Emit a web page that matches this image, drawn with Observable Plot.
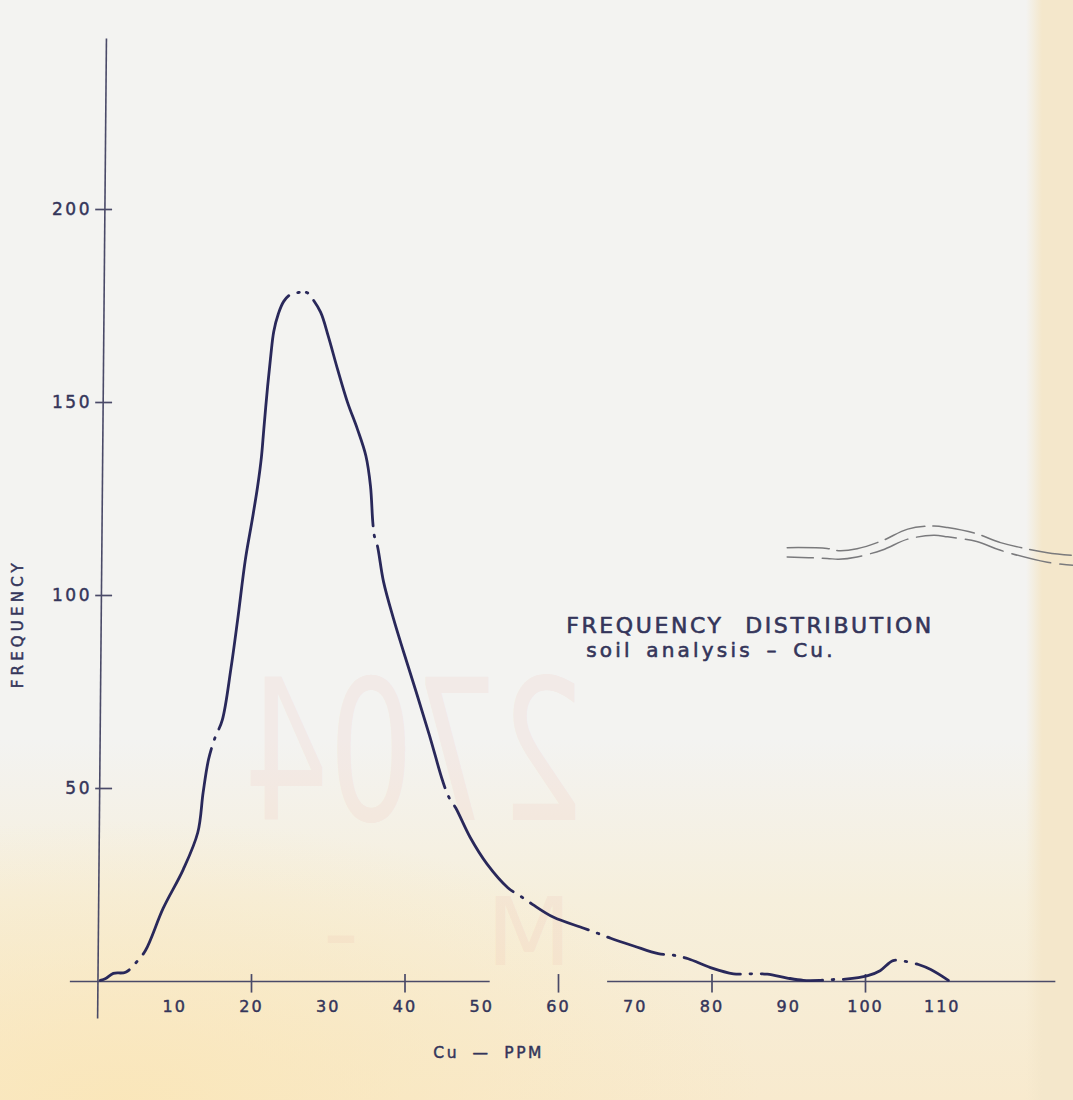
<!DOCTYPE html>
<html>
<head>
<meta charset="utf-8">
<script src="https://cdn.jsdelivr.net/npm/d3@7"></script>
<script src="https://cdn.jsdelivr.net/npm/@observablehq/plot@0.6"></script>
<style>
  html, body { margin: 0; padding: 0; }
  body {
    width: 1073px; height: 1100px; overflow: hidden; position: relative;
    background:
      linear-gradient(to right, rgba(244,231,203,0) 0px, rgba(244,231,203,0) 1026px, rgba(244,231,203,1) 1042px),
      radial-gradient(ellipse 640px 280px at 120px 1100px, rgba(250,230,184,0.9), rgba(250,230,184,0) 100%),
      linear-gradient(to bottom, #f3f3f1 0px, #f3f3f1 740px, #f6efdc 900px, #f8eace 1100px);
    font-family: "DejaVu Sans", sans-serif;
  }
  #wm { position: absolute; left: 0; top: 0; width: 1073px; height: 1100px; pointer-events: none; }
  #wm span { position: absolute; font-family: "DejaVu Sans", sans-serif; font-weight: normal;
             color: rgba(236, 172, 166, 0.15); white-space: pre; transform-origin: 0 0; line-height: 1; }
  #chart { position: absolute; left: 0; top: 0; }
  g[font-size="17"] text { letter-spacing: 2.5px; }
  g[font-size="16"] text { letter-spacing: 2px; }
  g[font-size="22"] text { letter-spacing: 2.6px; word-spacing: 12px; }
  g[font-size="20"] text { letter-spacing: 3.2px; word-spacing: 4px; }
  g[font-size="15"] text { letter-spacing: 4.2px; }
  g[font-size="15.5"] text { letter-spacing: 2.6px; word-spacing: 6px; }
</style>
</head>
<body>
<div id="wm">
  <span style="left:585px; top:654px; font-size:170px; transform: scale(-0.79, 1.15);">2704</span>
  <span style="left:572px; top:885px; font-size:95px; transform: scale(-1.05, 1.0);">M    -</span>
</div>
<div id="chart"></div>
<script>
// ---- data ----
const cuPpm = [
  0.3, 1.0, 2.0, 3.6, 5.0, 6.2, 8.5, 11.1, 13.0, 13.7,
  14.4, 15.2, 16.2, 17.3, 18.2, 19.2, 20.1, 20.8, 21.3, 21.6,
  22.1, 22.5, 22.9, 23.5, 24.2, 25.1, 26.1, 27.2, 27.7, 29.0,
  30.0, 31.2, 32.5, 33.8, 34.9, 35.5, 35.8, 36.0, 36.4, 37.2,
  38.5, 39.8, 41.6, 43.3, 44.9, 45.7, 46.6, 48.5, 50.7, 53.4,
  55.2, 56.6, 59.3, 63.3, 65.1, 66.8, 69.8, 73.0, 75.0, 76.9,
  79.8, 82.8, 85.0, 87.2, 89.8, 91.9, 94.1, 95.7, 97.4, 100.3,
  101.9, 103.6, 105.2, 106.9, 108.5, 110.8
];
const frequency = [
  0.3, 0.8, 2.1, 2.4, 5.0, 8.1, 19.0, 29.0, 38.6, 49.0,
  57.5, 62.9, 67.8, 80.8, 93.8, 109.3, 119.7, 128.3, 136.0, 143.0,
  154.2, 161.9, 168.4, 173.0, 176.2, 178.0, 178.5, 178.5, 177.5, 173.4,
  167.2, 158.7, 150.1, 143.1, 136.2, 128.4, 119.1, 115.5, 112.9, 103.6,
  94.0, 85.5, 74.1, 63.0, 52.0, 47.8, 45.0, 37.3, 30.4, 24.3,
  21.9, 20.0, 16.7, 13.8, 12.5, 11.2, 9.2, 7.2, 6.8, 5.9,
  3.6, 2.0, 2.0, 1.9, 0.9, 0.3, 0.3, 0.5, 0.6, 1.5,
  2.8, 5.4, 5.2, 4.4, 3.1, 0.3
];
// Cu values where the dash-dot pen leaves a dot
const penDotsAt = [5.0, 15.2, 26.1, 27.2, 36.0, 45.7, 55.2, 65.1, 75.0, 85.0, 95.7, 105.2];

const xTickLabels = [10, 20, 30, 40, 50, 60, 70, 80, 90, 100, 110];
const xTickMarks = [20, 40, 60, 80, 100];
const yTicks = [50, 100, 150, 200];

// the drawn axis lines (data units), x axis has a break between 51 and 66
const xAxisSegments = [{from: -3.6, to: 51.1}, {from: 66.4, to: 124.8}];
const yAxisExtent = {bottom: -9.6, top: 244.3};

// stray double pencil line at right
const strayX     = [89.8, 95.0, 96.5, 98.9, 102.2, 105.5, 108.9, 110.7, 114.5, 117.6, 123.7, 127.1];
const strayUpper = [112.4, 112.2, 111.6, 112.1, 114.2, 117.2, 118.0, 117.6, 116.0, 113.7, 111.1, 110.4];
const strayLower = [110.0, 109.6, 109.4, 110.0, 111.8, 114.6, 115.6, 115.2, 114.0, 111.7, 108.6, 107.8];

const titleText = "FREQUENCY DISTRIBUTION";
const subtitleText = "soil analysis – Cu.";
const yLabelText = "FREQUENCY";
const xLabelText = "Cu — PPM";
const titleAt = {x: 61.0, y: 92.0};
const subtitleAt = {x: 63.6, y: 85.6};
const yLabelAt = {x: -10.4, y: 92.7};
const xLabelAt = {x: 50.9, y: -18.6};
const xTickLabelRow = -6.5;

// ---- build ----
const ink = "#29285a";
const axisInk = "#4a4a68";
const textInk = "#34355a";

const curve = cuPpm.map((x, i) => ({x, y: frequency[i]}));
const strayUp = strayX.map((x, i) => ({x, y: strayUpper[i]}));
const strayLo = strayX.map((x, i) => ({x, y: strayLower[i]}));

const textStyle = {fill: textInk, stroke: textInk, strokeWidth: 0.45};

const svg = Plot.plot({
  width: 1073,
  height: 1100,
  margin: 0,
  style: {background: "transparent", fontFamily: "DejaVu Sans, sans-serif", color: textInk},
  x: {type: "linear", domain: [0, 120], range: [97.5, 1018.5], axis: null},
  y: {type: "linear", domain: [0, 200], range: [981, 209], axis: null},
  marks: [
    // axes
    Plot.link([yAxisExtent], {x1: -0.05, y1: d => d.bottom, x2: 1.1, y2: d => d.top, stroke: axisInk, strokeWidth: 1.6}),
    Plot.ruleY(xAxisSegments, {y: 0, x1: d => d.from, x2: d => d.to, stroke: axisInk, strokeWidth: 1.5}),
    Plot.ruleX(xTickMarks, {x: d => d, y1: -3.0, y2: 1.8, stroke: axisInk, strokeWidth: 1.7}),
    Plot.ruleY(yTicks, {y: d => d, x1: -0.3, x2: 1.9, stroke: axisInk, strokeWidth: 1.7}),
    Plot.text(yTicks, {x: 0, y: d => d, text: d => String(d), dx: -6, textAnchor: "end", fontSize: 17, ...textStyle}),
    Plot.text(xTickLabels, {x: d => d, y: xTickLabelRow, text: d => String(d), fontSize: 16, ...textStyle}),
    Plot.text([yLabelText], {x: yLabelAt.x, y: yLabelAt.y, text: d => d, rotate: -90, fontSize: 15, ...textStyle}),
    Plot.text([xLabelText], {x: xLabelAt.x, y: xLabelAt.y, text: d => d, fontSize: 15.5, ...textStyle}),
    // title block
    Plot.text([titleText], {x: titleAt.x, y: titleAt.y, text: d => d, textAnchor: "start", fontSize: 22, ...textStyle, strokeWidth: 0.6}),
    Plot.text([subtitleText], {x: subtitleAt.x, y: subtitleAt.y, text: d => d, textAnchor: "start", fontSize: 20, ...textStyle, strokeWidth: 0.6}),
    // stray pencil lines
    Plot.line(strayUp, {x: "x", y: "y", curve: "catmull-rom", stroke: "#7a7a7c", strokeWidth: 1.5, strokeDasharray: "42 8"}),
    Plot.line(strayLo, {x: "x", y: "y", curve: "catmull-rom", stroke: "#7a7a7d", strokeWidth: 1.5, strokeDasharray: "40 9", strokeDashoffset: 14}),
    // the frequency curve
    Plot.line(curve, {x: "x", y: "y", curve: "catmull-rom", stroke: ink, strokeWidth: 2.8, strokeLinecap: "round", strokeLinejoin: "round"})
  ]
});
document.getElementById("chart").append(svg);

// dash-dot pen: compute dash pattern from the dot positions along the drawn path
const xScale = svg.scale("x");
const path = svg.querySelector(`g[stroke="${ink}"] path`);
if (path) {
  const T = path.getTotalLength();
  const lengthAtX = (px) => {
    let lo = 0, hi = T;
    for (let i = 0; i < 40; i++) {
      const mid = (lo + hi) / 2;
      if (path.getPointAtLength(mid).x < px) lo = mid; else hi = mid;
    }
    return (lo + hi) / 2;
  };
  const g = 10.5;
  const dotL = penDotsAt.map(v => lengthAtX(xScale.apply(v)));
  const wins = dotL.map(L => [Math.max(0, L - g), Math.min(T, L + g)]).sort((a, b) => a[0] - b[0]);
  const merged = [];
  for (const w of wins) {
    if (merged.length && w[0] <= merged[merged.length - 1][1]) merged[merged.length - 1][1] = Math.max(merged[merged.length - 1][1], w[1]);
    else merged.push([...w]);
  }
  const on = [];
  let cur = 0;
  for (const w of merged) { if (w[0] > cur) on.push([cur, w[0]]); cur = w[1]; }
  if (cur < T) on.push([cur, T]);
  for (const L of dotL) on.push([L - 0.8, L + 0.8]);
  on.sort((a, b) => a[0] - b[0]);
  const arr = [];
  for (let i = 0; i < on.length; i++) {
    const [a, b] = on[i];
    arr.push(Math.max(0.01, b - a));
    const next = i + 1 < on.length ? on[i + 1][0] : T + 1000;
    arr.push(Math.max(0.01, next - b));
  }
  path.setAttribute("stroke-dasharray", arr.map(v => v.toFixed(2)).join(" "));
}
</script>
</body>
</html>
